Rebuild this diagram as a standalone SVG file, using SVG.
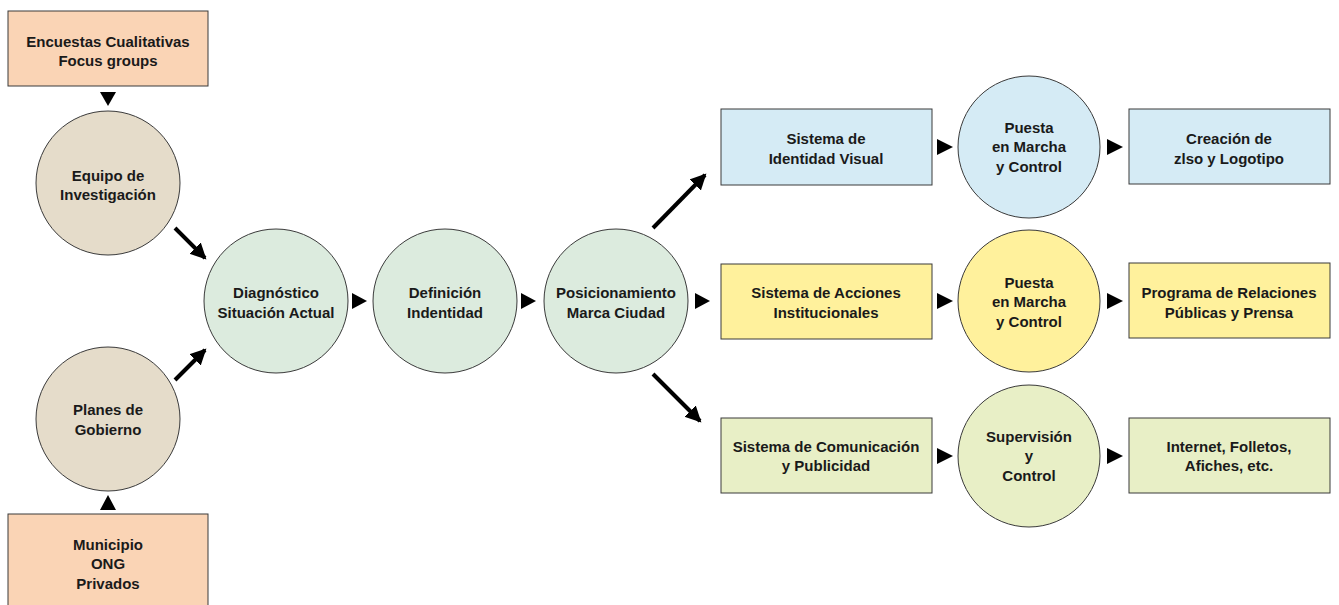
<svg xmlns="http://www.w3.org/2000/svg" width="1339" height="605" viewBox="0 0 1339 605">
  <style>
    .box { stroke: #3a3a3a; stroke-width: 1; }
    .circ { stroke: #3a3a3a; stroke-width: 1; }
    .peach { fill: #FAD4B5; }
    .beige { fill: #E5DCCA; }
    .mint { fill: #DCEBDE; }
    .blue { fill: #D5EBF5; }
    .yellow { fill: #FFF19C; }
    .olive { fill: #E8EFC6; }
    text { font-family: "Liberation Sans", Arial, sans-serif; font-weight: bold; font-size: 15px; fill: #1a1a1a; text-anchor: middle; }
    .tri { fill: #000; }
    .diag { stroke: #000; stroke-width: 4; fill: none; }
  </style>
  <defs>
    <marker id="head" markerUnits="userSpaceOnUse" markerWidth="18" markerHeight="18" refX="14" refY="8" orient="auto">
      <path d="M0,0 L16,8 L0,16 Z" fill="#000"/>
    </marker>
  </defs>

  <rect width="1339" height="605" fill="#fff"/>

  <!-- connectors -->
  <g id="connectors">
    <path class="tri" d="M100,92 L116,92 L108,106 Z"/>
    <path class="tri" d="M100,510 L116,510 L108,495 Z"/>
    <line class="diag" x1="175" y1="228" x2="205" y2="258" marker-end="url(#head)"/>
    <line class="diag" x1="175" y1="380" x2="205" y2="350" marker-end="url(#head)"/>
    <path class="tri" d="M352,293 L367,301 L352,309 Z"/>
    <path class="tri" d="M521,293 L536,301 L521,309 Z"/>
    <line class="diag" x1="653" y1="228" x2="705" y2="175" marker-end="url(#head)"/>
    <path class="tri" d="M695,293 L710,301 L695,309 Z"/>
    <line class="diag" x1="653" y1="374" x2="700" y2="421" marker-end="url(#head)"/>
    <path class="tri" d="M937,139 L953,147 L937,155 Z"/>
    <path class="tri" d="M937,293 L953,301 L937,309 Z"/>
    <path class="tri" d="M937,448 L953,456 L937,464 Z"/>
    <path class="tri" d="M1107,139 L1123,147 L1107,155 Z"/>
    <path class="tri" d="M1107,293 L1123,301 L1107,309 Z"/>
    <path class="tri" d="M1107,448 L1123,456 L1107,464 Z"/>
  </g>

  <!-- inputs -->
  <g id="encuestas">
    <rect class="box peach" x="8" y="11" width="200" height="75"/>
    <text x="108" y="47">Encuestas Cualitativas</text>
    <text x="108" y="66">Focus groups</text>
  </g>
  <g id="equipo">
    <circle class="circ beige" cx="108" cy="183" r="72"/>
    <text x="108" y="181">Equipo de</text>
    <text x="108" y="200">Investigación</text>
  </g>
  <g id="planes">
    <circle class="circ beige" cx="108" cy="419" r="72"/>
    <text x="108" y="415">Planes de</text>
    <text x="108" y="435">Gobierno</text>
  </g>
  <g id="municipio">
    <rect class="box peach" x="8" y="514" width="200" height="100"/>
    <text x="108" y="550">Municipio</text>
    <text x="108" y="569">ONG</text>
    <text x="108" y="589">Privados</text>
  </g>

  <!-- main sequence -->
  <g id="diagnostico">
    <circle class="circ mint" cx="276" cy="301" r="72"/>
    <text x="276" y="298">Diagnóstico</text>
    <text x="276" y="318">Situación Actual</text>
  </g>
  <g id="definicion">
    <circle class="circ mint" cx="445" cy="301" r="72"/>
    <text x="445" y="298">Definición</text>
    <text x="445" y="318">Indentidad</text>
  </g>
  <g id="posicionamiento">
    <circle class="circ mint" cx="616" cy="301" r="72"/>
    <text x="616" y="298">Posicionamiento</text>
    <text x="616" y="318">Marca Ciudad</text>
  </g>

  <!-- visual identity row -->
  <g id="identidad-visual">
    <rect class="box blue" x="721" y="109" width="211" height="76"/>
    <text x="826" y="144">Sistema de</text>
    <text x="826" y="164">Identidad Visual</text>
  </g>
  <g id="puesta-1">
    <circle class="circ blue" cx="1029" cy="147" r="71"/>
    <text x="1029" y="133">Puesta</text>
    <text x="1029" y="152">en Marcha</text>
    <text x="1029" y="172">y Control</text>
  </g>
  <g id="logotipo">
    <rect class="box blue" x="1129" y="109" width="201" height="75"/>
    <text x="1229" y="144">Creación de</text>
    <text x="1229" y="164">zlso y Logotipo</text>
  </g>

  <!-- institutional row -->
  <g id="acciones">
    <rect class="box yellow" x="721" y="264" width="211" height="75"/>
    <text x="826" y="298">Sistema de Acciones</text>
    <text x="826" y="318">Institucionales</text>
  </g>
  <g id="puesta-2">
    <circle class="circ yellow" cx="1029" cy="301" r="71"/>
    <text x="1029" y="288">Puesta</text>
    <text x="1029" y="307">en Marcha</text>
    <text x="1029" y="327">y Control</text>
  </g>
  <g id="relaciones">
    <rect class="box yellow" x="1129" y="263" width="201" height="75"/>
    <text x="1229" y="298">Programa de Relaciones</text>
    <text x="1229" y="318">Públicas y Prensa</text>
  </g>

  <!-- communication row -->
  <g id="comunicacion">
    <rect class="box olive" x="721" y="418" width="211" height="75"/>
    <text x="826" y="452">Sistema de Comunicación</text>
    <text x="826" y="471">y Publicidad</text>
  </g>
  <g id="supervision">
    <circle class="circ olive" cx="1029" cy="456" r="71"/>
    <text x="1029" y="442">Supervisión</text>
    <text x="1029" y="461">y</text>
    <text x="1029" y="481">Control</text>
  </g>
  <g id="medios">
    <rect class="box olive" x="1129" y="418" width="201" height="75"/>
    <text x="1229" y="452">Internet, Folletos,</text>
    <text x="1229" y="471">Afiches, etc.</text>
  </g>
</svg>
